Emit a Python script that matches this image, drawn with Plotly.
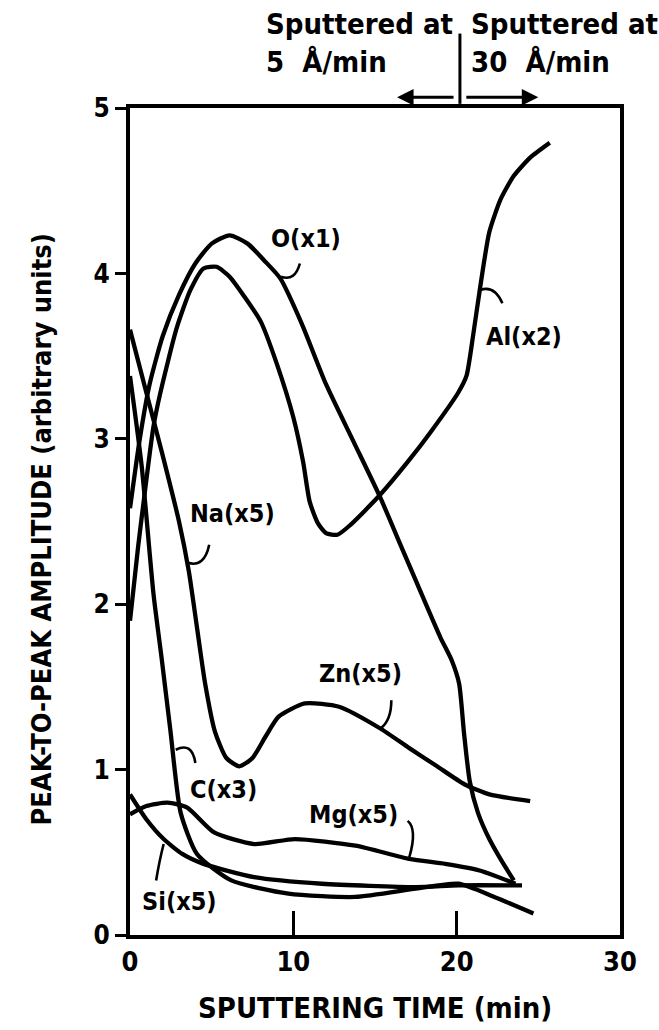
import plotly.graph_objects as go

# Auger peak-to-peak amplitudes vs sputtering time (min)
o_t = [0, 0.6, 1.2, 2.0, 3.0, 4.0, 5.0, 6.1, 7.2, 8.2, 9.2, 10.5, 12.0, 13.7, 15.3, 16.6,
       17.9, 19.0, 19.7, 20.15, 20.45, 20.8, 21.3, 22.0, 22.8, 23.5]
o_amp = [2.58, 3.0, 3.33, 3.62, 3.87, 4.06, 4.18, 4.23, 4.18, 4.08, 3.97, 3.70, 3.33, 2.98, 2.65, 2.35,
         2.05, 1.80, 1.66, 1.52, 1.22, 0.93, 0.74, 0.58, 0.44, 0.33]

al_t = [0, 0.5, 1.0, 1.43, 1.84, 2.86, 3.7, 4.5, 5.3, 6.1, 7.0, 8.0, 9.0, 10.0, 10.6, 11.0,
        11.5, 12.0, 12.7, 13.5, 15.3, 17.0, 18.4, 20.1, 20.6, 21.0, 21.4, 22.0, 22.7, 23.5, 24.5, 25.7]
al_amp = [1.9, 2.35, 2.75, 3.07, 3.27, 3.67, 3.90, 4.03, 4.04, 3.98, 3.86, 3.71, 3.45, 3.13, 2.86, 2.62,
          2.49, 2.43, 2.42, 2.48, 2.66, 2.86, 3.04, 3.28, 3.38, 3.62, 3.89, 4.25, 4.45, 4.59, 4.70, 4.79]

zn_t = [0, 1.0, 2.0, 3.0, 3.6, 4.1, 4.6, 5.2, 5.9, 6.7, 7.5, 8.3, 9.1, 10.7, 12.8, 15.3, 17.1, 18.8,
        20.5, 22.0, 24.5]
zn_amp = [3.66, 3.28, 2.9, 2.5, 2.2, 1.86, 1.52, 1.23, 1.07, 1.02, 1.07, 1.20, 1.32, 1.40, 1.38, 1.25,
          1.13, 1.02, 0.91, 0.85, 0.81]

c_t = [0, 0.71, 1.44, 1.94, 2.47, 3.1, 4.1, 6.2, 9.7, 13.8, 17.5, 20.1, 22.3, 24.7]
c_amp = [3.38, 2.84, 2.06, 1.67, 1.24, 0.74, 0.49, 0.33, 0.25, 0.23, 0.28, 0.31, 0.23, 0.13]

mg_t = [0, 1.0, 2.3, 3.5, 5.15, 7.6, 10.1, 13.8, 17.1, 19.3, 21.4, 23.6]
mg_amp = [0.73, 0.78, 0.80, 0.77, 0.62, 0.55, 0.58, 0.54, 0.46, 0.43, 0.39, 0.31]

si_t = [0, 1.0, 2.06, 3.2, 4.5, 7.6, 11.75, 17.5, 20.1, 24.0]
si_amp = [0.85, 0.70, 0.58, 0.49, 0.43, 0.35, 0.31, 0.29, 0.30, 0.30]

series = [
    ("O(x1)", o_t, o_amp),
    ("Al(x2)", al_t, al_amp),
    ("Zn(x5)", zn_t, zn_amp),
    ("C(x3)", c_t, c_amp),
    ("Mg(x5)", mg_t, mg_amp),
    ("Si(x5)", si_t, si_amp),
]

# curve labels: (text, label x, label y, leader start, leader control, leader end)
labels = [
    ("O(x1)", 10.8, 4.21, (10.4, 4.06), (10.1, 3.95), (9.25, 3.98)),
    ("Al(x2)", 24.1, 3.62, (22.8, 3.82), (22.3, 3.93), (21.45, 3.90)),
    ("Na(x5)", 6.3, 2.55, (4.85, 2.36), (4.55, 2.22), (3.55, 2.25)),
    ("Zn(x5)", 14.1, 1.58, (16.0, 1.42), (16.0, 1.30), (15.35, 1.25)),
    ("C(x3)", 5.7, 0.88, (4.0, 1.04), (3.8, 1.17), (2.8, 1.12)),
    ("Mg(x5)", 13.7, 0.73, (17.0, 0.69), (17.6, 0.64), (17.1, 0.47)),
    ("Si(x5)", 3.0, 0.20, (1.6, 0.33), (1.8, 0.45), (2.06, 0.55)),
]

x_ticks = [0, 10, 20, 30]
y_ticks = [0, 1, 2, 3, 4, 5]

FONT = "DejaVu Sans Condensed, DejaVu Sans, sans-serif"


def bold(size):
    return dict(family=FONT, size=size, color="black", weight="bold")


fig = go.Figure()
for name, t, amp in series:
    fig.add_trace(go.Scatter(
        x=t, y=amp, mode="lines", name=name,
        line=dict(color="black", width=4.3, shape="spline", smoothing=0.6),
        hoverinfo="skip",
    ))

shapes = []
annotations = []
for text, lx, ly, p0, pc, p1 in labels:
    annotations.append(dict(x=lx, y=ly, xref="x", yref="y", text=text, showarrow=False,
                            font=bold(25)))
    shapes.append(dict(type="path", xref="x", yref="y",
                       path=f"M {p0[0]},{p0[1]} Q {pc[0]},{pc[1]} {p1[0]},{p1[1]}",
                       line=dict(color="black", width=2.6)))

# sputtering-rate change marker at 20 min
shapes.append(dict(type="line", xref="x", yref="paper", x0=20.2, x1=20.2, y0=1.005, y1=1.09,
                   line=dict(color="black", width=3)))
annotations += [
    dict(x=16.35, y=1.013, ax=19.9, ay=0, xref="x", yref="paper", axref="x", ayref="pixel",
         text="", showarrow=True, arrowhead=2, arrowsize=1.1, arrowwidth=3, arrowcolor="black"),
    dict(x=25.0, y=1.013, ax=20.5, ay=0, xref="x", yref="paper", axref="x", ayref="pixel",
         text="", showarrow=True, arrowhead=2, arrowsize=1.1, arrowwidth=3, arrowcolor="black"),
    dict(x=8.2, y=1.124, xref="x", yref="paper", xanchor="left", yanchor="top", align="left",
         text="Sputtered at<br>5  Å/min", showarrow=False, font=bold(29)),
    dict(x=20.75, y=1.124, xref="x", yref="paper", xanchor="left", yanchor="top", align="left",
         text="Sputtered at<br>30  Å/min", showarrow=False, font=bold(29)),
    dict(x=0.5, y=-0.088, xref="paper", yref="paper", xanchor="center", yanchor="middle",
         text="SPUTTERING TIME (min)", showarrow=False, font=bold(29)),
    dict(x=-0.18, y=0.49, xref="paper", yref="paper", xanchor="center", yanchor="middle",
         textangle=-90, text="PEAK-TO-PEAK AMPLITUDE (arbitrary units)",
         showarrow=False, font=bold(27)),
]

fig.update_layout(
    width=659, height=1030,
    margin=dict(l=130, r=39, t=108, b=95),
    paper_bgcolor="white", plot_bgcolor="white",
    showlegend=False,
    shapes=shapes, annotations=annotations,
    xaxis=dict(range=[0, 30], tickvals=x_ticks, ticktext=[str(v) for v in x_ticks],
               ticks="inside", ticklen=24, tickwidth=3, tickcolor="black",
               showline=True, linewidth=4, linecolor="black", mirror=True,
               showgrid=False, zeroline=False,
               tickfont=bold(27)),
    yaxis=dict(range=[0, 5], tickvals=y_ticks, ticktext=[str(v) for v in y_ticks],
               ticks="outside", ticklen=11, tickwidth=3, tickcolor="black",
               showline=True, linewidth=4, linecolor="black", mirror=True,
               showgrid=False, zeroline=False,
               tickfont=bold(26)),
)

fig.write_html("out.html")
